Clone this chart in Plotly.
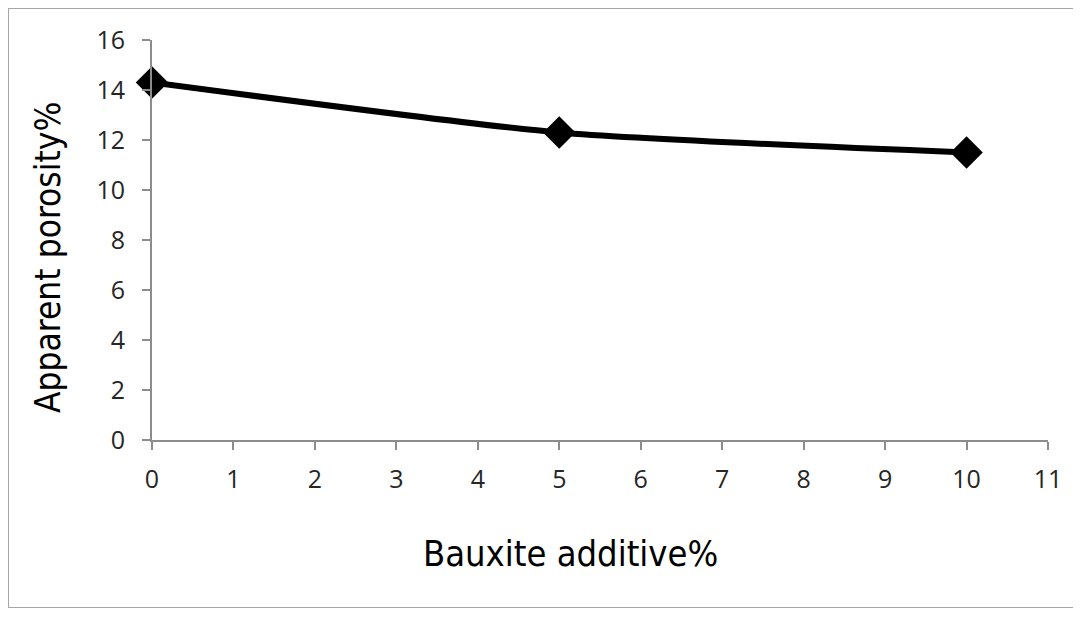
import plotly.graph_objects as go

bauxite = [0, 5, 10]
porosity = [14.3, 12.3, 11.5]
x_ticks = list(range(0, 12))
y_ticks = list(range(0, 17, 2))
x_title = "Bauxite additive%"
y_title = "Apparent porosity%"

fig = go.Figure()
fig.add_trace(go.Scatter(
    x=bauxite, y=porosity, mode="lines+markers",
    line=dict(color="black", width=6, shape="spline", smoothing=0.6),
    marker=dict(symbol="diamond", size=25, color="black"),
    cliponaxis=False,
    showlegend=False,
))

# page body has an 8px margin; the reference frame is the figure edge
W, H = 1069, 600
L, R, T, B = 144, 29, 32, 168
PW, PH = W - L - R, H - T - B

fig.add_shape(type="rect", xref="paper", yref="paper",
              x0=-L / PW, x1=1 + R / PW,
              y0=-B / PH, y1=1 + T / PH,
              line=dict(color="#a6a6a6", width=2), fillcolor="rgba(0,0,0,0)", layer="below")

titlefont = dict(family="DejaVu Sans Condensed, Roboto, sans-serif", color="black")
fig.add_annotation(text=x_title, xref="paper", yref="paper",
                   x=(562 - L) / PW, y=(T + PH - 545) / PH,
                   xanchor="center", yanchor="middle", showarrow=False,
                   font=dict(size=36, **titlefont))
fig.add_annotation(text=y_title, xref="paper", yref="paper",
                   x=(40 - L) / PW, y=(T + PH - 250) / PH, textangle=-90,
                   xanchor="center", yanchor="middle", showarrow=False,
                   font=dict(size=35, **titlefont))

tickfont = dict(family="Open Sans, Liberation Sans, sans-serif", size=25, color="#262626")
fig.update_layout(
    width=W, height=H,
    margin=dict(l=L, r=R, t=T, b=B),
    paper_bgcolor="white", plot_bgcolor="white",
    xaxis=dict(range=[0, 11], tickvals=x_ticks, ticks="outside", ticklen=8, tickcolor="#8c8c8c",
               tickwidth=2, ticklabelstandoff=8,
               showline=True, linecolor="#8c8c8c", linewidth=2, showgrid=False, zeroline=False,
               tickfont=tickfont),
    yaxis=dict(range=[0, 16], tickvals=y_ticks, ticks="outside", ticklen=8, tickcolor="#8c8c8c",
               tickwidth=2, ticklabelstandoff=12,
               showline=True, linecolor="#8c8c8c", linewidth=2, showgrid=False, zeroline=False,
               tickfont=tickfont),
)

fig.write_html("out.html")
